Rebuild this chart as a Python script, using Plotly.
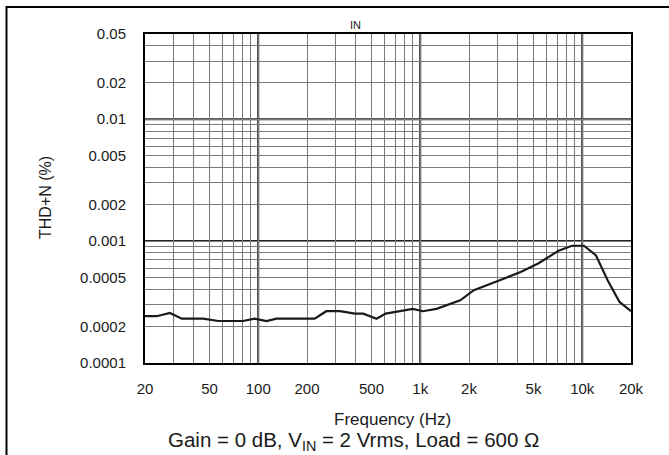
import plotly.graph_objects as go

# Data
freq_hz = [20, 23.6, 28.5, 33.7, 45.7, 56.6, 80.6, 95, 112.6, 129.6, 223, 263, 320, 394, 445,
           537, 612, 778, 900, 1039, 1260, 1766, 2141, 3302, 4200, 5346, 7140, 8650, 10240,
           12130, 14350, 16990, 20000]
thd_n_pct = [2.42e-4, 2.42e-4, 2.57e-4, 2.31e-4, 2.31e-4, 2.21e-4, 2.21e-4, 2.31e-4, 2.21e-4,
             2.31e-4, 2.31e-4, 2.66e-4, 2.66e-4, 2.54e-4, 2.54e-4, 2.31e-4, 2.54e-4, 2.71e-4,
             2.78e-4, 2.66e-4, 2.78e-4, 3.27e-4, 3.96e-4, 4.93e-4, 5.6e-4, 6.55e-4, 8.33e-4,
             9.16e-4, 9.16e-4, 7.67e-4, 4.78e-4, 3.17e-4, 2.66e-4]

x_tick_vals = [20, 50, 100, 200, 500, 1000, 2000, 5000, 10000, 20000]
x_tick_text = ["20", "50", "100", "200", "500", "1k", "2k", "5k", "10k", "20k"]
y_tick_vals = [0.0001, 0.0002, 0.0005, 0.001, 0.002, 0.005, 0.01, 0.02, 0.05]
y_tick_text = ["0.0001", "0.0002", "0.0005", "0.001", "0.002", "0.005", "0.01", "0.02", "0.05"]

x_minor = [m * d for d in (10, 100, 1000, 10000) for m in range(1, 10) if 20 <= m * d <= 20000]
y_minor = [m * d for d in (0.0001, 0.001, 0.01) for m in range(1, 10) if m * d <= 0.05]
x_decades = [100, 1000, 10000]
y_decades = [0.001, 0.01]

W, H = 669, 455
L, R, T, B = 145, 631, 34, 363

FONT = "Liberation Sans, Arial, sans-serif"
INK = "#1a1a1a"

fig = go.Figure()
fig.add_trace(go.Scatter(x=freq_hz, y=thd_n_pct, mode="lines",
                         line=dict(color=INK, width=2.2), hoverinfo="skip",
                         showlegend=False))

shapes = []
for f in x_decades:
    shapes.append(dict(type="line", xref="x", yref="paper", x0=f, x1=f, y0=0, y1=1,
                       line=dict(color="#222222", width=2), layer="below"))
for v in y_decades:
    shapes.append(dict(type="line", xref="paper", yref="y", x0=0, x1=1, y0=v, y1=v,
                       line=dict(color="#222222", width=2), layer="below"))

def px2x(px):
    return (px - L) / (R - L)

def py2y(py):
    return (B - py) / (B - T)

# outer frame (top and left edges)
shapes.append(dict(type="line", xref="paper", yref="paper", x0=px2x(6.5), x1=px2x(W + 2),
                   y0=py2y(7), y1=py2y(7), line=dict(color="black", width=2)))
shapes.append(dict(type="line", xref="paper", yref="paper", x0=px2x(6.5), x1=px2x(6.5),
                   y0=py2y(6), y1=py2y(H + 2), line=dict(color="black", width=2)))

annotations = [
    dict(text="IN", xref="paper", yref="paper", x=px2x(355), y=py2y(25), showarrow=False,
         font=dict(family=FONT, size=11, color=INK), xanchor="center", yanchor="middle"),
    dict(text="Frequency (Hz)", xref="paper", yref="paper", x=px2x(392), y=py2y(420),
         showarrow=False, font=dict(family=FONT, size=17, color=INK),
         xanchor="center", yanchor="middle"),
    dict(text="Gain = 0 dB, V<sub>IN</sub> = 2 Vrms, Load = 600 Ω", xref="paper", yref="paper",
         x=px2x(353), y=py2y(441), showarrow=False,
         font=dict(family=FONT, size=20.5, color=INK), xanchor="center", yanchor="middle"),
    dict(text="THD+N (%)", xref="paper", yref="paper", x=px2x(45), y=py2y(198),
         showarrow=False, textangle=-90, font=dict(family=FONT, size=16, color=INK),
         xanchor="center", yanchor="middle"),
]

fig.update_layout(
    width=W, height=H, autosize=False,
    margin=dict(l=L, r=W - R, t=T, b=H - B),
    paper_bgcolor="white", plot_bgcolor="white",
    shapes=shapes, annotations=annotations,
    font=dict(family=FONT, color=INK),
    xaxis=dict(type="log", range=[1.30103, 4.30103], tickvals=x_tick_vals,
               ticktext=x_tick_text, showgrid=False, zeroline=False,
               ticks="", ticklabelstandoff=11,
               tickfont=dict(family=FONT, size=15, color=INK),
               showline=True, mirror=True, linewidth=2, linecolor="black",
               minor=dict(tickvals=x_minor, showgrid=True, gridcolor="#7a7a7a",
                          gridwidth=1, ticks="")),
    yaxis=dict(type="log", range=[-4, -1.30103], tickvals=y_tick_vals,
               ticktext=y_tick_text, showgrid=False, zeroline=False,
               ticks="", ticklabelstandoff=14,
               tickfont=dict(family=FONT, size=15, color=INK),
               showline=True, mirror=True, linewidth=2, linecolor="black",
               minor=dict(tickvals=y_minor, showgrid=True, gridcolor="#7a7a7a",
                          gridwidth=1, ticks="")),
)

fig.write_html("out.html", config={"displayModeBar": False},
               post_script="document.body.style.margin='0';")
